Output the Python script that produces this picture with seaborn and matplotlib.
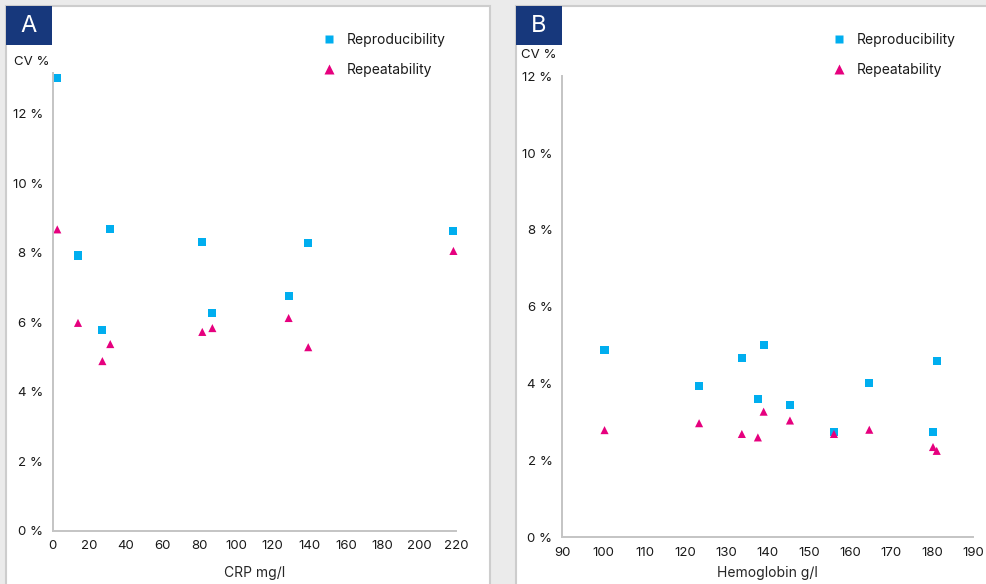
import numpy as np
import pandas as pd
import matplotlib
matplotlib.use('Agg')
import matplotlib.pyplot as plt
from matplotlib.patches import Rectangle
from matplotlib.lines import Line2D
from matplotlib.ticker import MultipleLocator, FuncFormatter
import seaborn as sns

# 数据: A 面板 (CRP)
crp_x = [2.5, 13.8, 27.1, 31.4, 81.6, 87.1, 128.7, 139.4, 218.6]
crp_reprod = [13.02, 7.92, 5.77, 8.67, 8.30, 6.26, 6.75, 8.27, 8.62]
crp_repeat = [8.67, 5.98, 4.88, 5.37, 5.72, 5.83, 6.12, 5.28, 8.05]

# 数据: B 面板 (Hemoglobin)
hb_x = [100.3, 123.3, 133.7, 137.6, 139.0, 145.4, 156.1, 164.7, 180.2, 181.1]
hb_reprod = [4.88, 3.94, 4.67, 3.60, 5.00, 3.45, 2.75, 4.02, 2.75, 4.59]
hb_repeat = [2.79, 2.97, 2.69, 2.60, 3.27, 3.04, 2.69, 2.80, 2.35, 2.25]

series_names = ['Reproducibility', 'Repeatability']

BLUE = '#00AEEF'
PINK = '#E6007E'
NAVY = '#17387C'
GRID = '#c4c4c4'

sns.set_theme(style='white')
plt.rcParams['font.family'] = ['Inter', 'DejaVu Sans']
plt.rcParams['text.color'] = '#1a1a1a'

W, H = 987, 584
fig = plt.figure(figsize=(W / 100, H / 100), dpi=100)
fig.patch.set_facecolor('#ebebeb')


def fx(px):
    return px / W


def fy(py):
    return 1 - py / H


def panel(left, right, letter):
    # 白色面板和边框
    fig.patches.append(Rectangle((fx(left), fy(H + 5)), fx(right - left), fy(6) - fy(H + 5),
                                 transform=fig.transFigure, facecolor='white',
                                 edgecolor='#cdcdcd', linewidth=1.5, zorder=0))
    fig.patches.append(Rectangle((fx(left), fy(45)), fx(46), fy(6) - fy(45),
                                 transform=fig.transFigure, facecolor=NAVY,
                                 edgecolor='none', zorder=1))
    fig.text(fx(left + 23), fy(25.5), letter, color='white', fontsize=17,
             ha='center', va='center', zorder=2)


def make_df(x, reprod, repeat):
    return pd.DataFrame({
        'x': list(x) * 2,
        'cv': list(reprod) + list(repeat),
        'kind': [series_names[0]] * len(x) + [series_names[1]] * len(x),
    })


def style_axis(ax):
    ax.set_zorder(5)
    for s in ['top', 'right']:
        ax.spines[s].set_visible(False)
    for s in ['left', 'bottom']:
        ax.spines[s].set_color(GRID)
        ax.spines[s].set_linewidth(1.4)
    ax.tick_params(axis='both', which='major', length=5, width=1, color=GRID,
                   labelsize=9.5, labelcolor='#1a1a1a', pad=2)
    ax.tick_params(axis='y', which='minor', length=3.5, width=1, color=GRID)
    ax.yaxis.set_major_locator(MultipleLocator(2))
    ax.yaxis.set_minor_locator(MultipleLocator(1))
    ax.yaxis.set_major_formatter(FuncFormatter(lambda v, p: f'{int(round(v))} %'))
    ax.set_facecolor('none')
    ax.set_ylabel('')


def add_legend(x0, y0):
    handles = [
        Line2D([], [], marker='s', color='none', markerfacecolor=BLUE,
               markeredgecolor='none', markersize=6),
        Line2D([], [], marker='^', color='none', markerfacecolor=PINK,
               markeredgecolor='none', markersize=7),
    ]
    leg = fig.legend(handles, series_names, loc='upper left',
                     bbox_to_anchor=(fx(x0), fy(y0)), frameon=False, fontsize=10,
                     handlelength=1.0, handletextpad=0.8, labelspacing=1.15,
                     borderpad=0, borderaxespad=0)
    leg.set_zorder(6)


panel(6, 490, 'A')
panel(516, 1000, 'B')

markers = {series_names[0]: 's', series_names[1]: '^'}
palette = {series_names[0]: BLUE, series_names[1]: PINK}

# 面板 A
axA = fig.add_axes([fx(52.7), fy(530.7), fx(456 - 52.7), fy(73) - fy(530.7)])
sns.scatterplot(data=make_df(crp_x, crp_reprod, crp_repeat), x='x', y='cv',
                hue='kind', style='kind', markers=markers, palette=palette,
                s=34, linewidth=0, ax=axA, legend=False, clip_on=False)
axA.set_xlim(0, 220)
axA.set_ylim(0, 13.17)
axA.xaxis.set_major_locator(MultipleLocator(20))
style_axis(axA)
axA.set_xlabel('CRP mg/l', fontsize=10, labelpad=10)
fig.text(fx(14), fy(62), 'CV %', fontsize=9.5, va='center', ha='left', zorder=6)
add_legend(322, 33)

# 面板 B
axB = fig.add_axes([fx(562.2), fy(537.3), fx(973.3 - 562.2), fy(76.3) - fy(537.3)])
sns.scatterplot(data=make_df(hb_x, hb_reprod, hb_repeat), x='x', y='cv',
                hue='kind', style='kind', markers=markers, palette=palette,
                s=34, linewidth=0, ax=axB, legend=False, clip_on=False)
axB.set_xlim(90, 190)
axB.set_ylim(0, 12)
axB.xaxis.set_major_locator(MultipleLocator(10))
style_axis(axB)
axB.set_xlabel('Hemoglobin g/l', fontsize=10, labelpad=5)
fig.text(fx(521), fy(55), 'CV %', fontsize=9.5, va='center', ha='left', zorder=6)
add_legend(832, 33)

fig.savefig('out.png', dpi=100)
